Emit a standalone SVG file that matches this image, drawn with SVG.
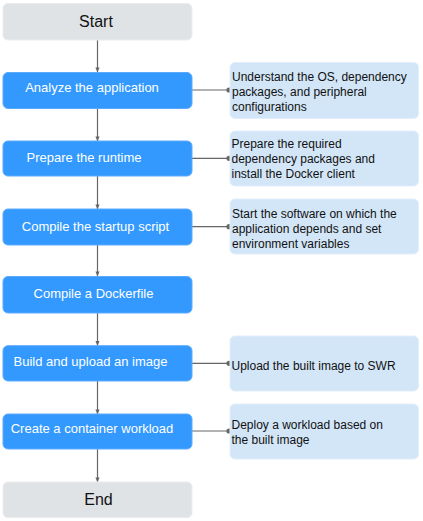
<svg xmlns="http://www.w3.org/2000/svg" width="423" height="521" viewBox="0 0 423 521">
<defs>
<style>
.term{fill:#e0e3e5;stroke:#eaedee;stroke-width:1}
.step{fill:#3399ff;stroke:#5aabff;stroke-width:1}
.note{fill:#d3e6f8;stroke:#e2eefb;stroke-width:1}
.tt{font-family:"Liberation Sans",Arial,sans-serif;font-size:16px;fill:#111;text-anchor:middle}
.st{font-family:"Liberation Sans",Arial,sans-serif;font-size:13px;fill:#ffffff;text-anchor:middle}
.nt{font-family:"Liberation Sans",Arial,sans-serif;font-size:12px;fill:#111}
.ln{stroke:#666;stroke-width:1.2;fill:none}
</style>
<marker id="arr" viewBox="0 0 6 6" refX="5.5" refY="3" markerWidth="5" markerHeight="5" orient="auto" markerUnits="userSpaceOnUse">
<path d="M0,0.5 L6,3 L0,5.5 z" fill="#666"/>
</marker>
<marker id="dot" viewBox="0 0 6 6" refX="3" refY="3" markerWidth="6" markerHeight="6" markerUnits="userSpaceOnUse">
<circle cx="3" cy="3" r="2.6" fill="#666"/>
</marker>
</defs>
<g id="connectors">
<line class="ln" x1="97.5" y1="40" x2="97.5" y2="72" marker-end="url(#arr)"/>
<line class="ln" x1="97.5" y1="108" x2="97.5" y2="141" marker-end="url(#arr)"/>
<line class="ln" x1="97.5" y1="176" x2="97.5" y2="209" marker-end="url(#arr)"/>
<line class="ln" x1="97.5" y1="245" x2="97.5" y2="276" marker-end="url(#arr)"/>
<line class="ln" x1="97.5" y1="313" x2="97.5" y2="345.5" marker-end="url(#arr)"/>
<line class="ln" x1="97.5" y1="381" x2="97.5" y2="414" marker-end="url(#arr)"/>
<line class="ln" x1="97.5" y1="449" x2="97.5" y2="482" marker-end="url(#arr)"/>
<line class="ln" x1="192" y1="90" x2="229" y2="90" marker-end="url(#dot)"/>
<line class="ln" x1="192" y1="158.3" x2="229" y2="158.3" marker-end="url(#dot)"/>
<line class="ln" x1="192" y1="226.7" x2="229" y2="226.7" marker-end="url(#dot)"/>
<line class="ln" x1="192" y1="363.3" x2="229" y2="363.3" marker-end="url(#dot)"/>
<line class="ln" x1="192" y1="431" x2="229" y2="431" marker-end="url(#dot)"/>
</g>
<g id="start"><rect class="term" x="3" y="3.5" width="189" height="36.5" rx="5"/><text class="tt" x="96" y="26.7">Start</text></g>
<g id="analyze"><rect class="step" x="3" y="72.5" width="189" height="36" rx="5"/><text class="st" x="92" y="92.3">Analyze the application</text></g>
<g id="note-analyze"><rect class="note" x="230" y="62.5" width="188.5" height="56" rx="5"/><text class="nt"><tspan x="232" y="81">Understand the OS, dependency</tspan><tspan x="232" y="96">packages, and peripheral</tspan><tspan x="232" y="111">configurations</tspan></text></g>
<g id="runtime"><rect class="step" x="3" y="141" width="189" height="35" rx="5"/><text class="st" x="84" y="161.7">Prepare the runtime</text></g>
<g id="note-runtime"><rect class="note" x="230" y="131" width="188.5" height="55" rx="5"/><text class="nt"><tspan x="231.5" y="148.3">Prepare the required</tspan><tspan x="231.5" y="163.3">dependency packages and</tspan><tspan x="231.5" y="178.3">install the Docker client</tspan></text></g>
<g id="startup"><rect class="step" x="3" y="209" width="189" height="36" rx="5"/><text class="st" x="95.5" y="230.7">Compile the startup script</text></g>
<g id="note-startup"><rect class="note" x="230" y="199" width="188.5" height="55" rx="5"/><text class="nt"><tspan x="232" y="218.3">Start the software on which the</tspan><tspan x="232" y="233.3">application depends and set</tspan><tspan x="232" y="248.3">environment variables</tspan></text></g>
<g id="dockerfile"><rect class="step" x="3" y="276.5" width="189" height="36.5" rx="5"/><text class="st" x="93.5" y="297.7">Compile a Dockerfile</text></g>
<g id="build"><rect class="step" x="3" y="345.7" width="189" height="35.3" rx="5"/><text class="st" x="90.5" y="365.7">Build and upload an image</text></g>
<g id="note-build"><rect class="note" x="230" y="336" width="188.5" height="55" rx="5"/><text class="nt" x="231.5" y="370">Upload the built image to SWR</text></g>
<g id="workload"><rect class="step" x="3" y="414" width="189" height="35" rx="5"/><text class="st" x="92" y="432.7">Create a container workload</text></g>
<g id="note-workload"><rect class="note" x="230" y="404" width="188.5" height="55" rx="5"/><text class="nt"><tspan x="231.5" y="429">Deploy a workload based on</tspan><tspan x="231.5" y="444">the built image</tspan></text></g>
<g id="end"><rect class="term" x="3" y="482" width="189" height="35.7" rx="5"/><text class="tt" x="98.5" y="505">End</text></g>
</svg>
